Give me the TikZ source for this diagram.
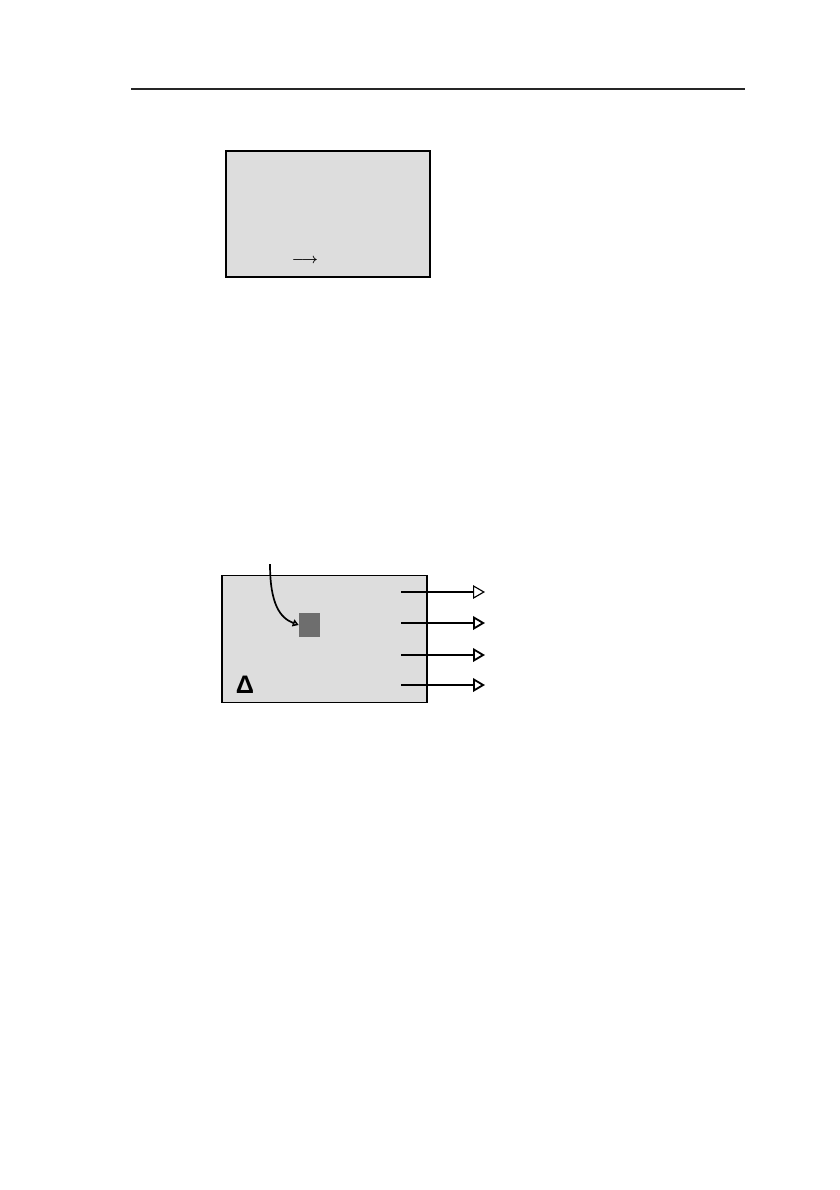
\documentclass[tikz,border=0pt]{standalone}
\usepackage{amsmath}
\usepackage{amssymb}
\usepackage{fontspec}
\usepackage{tikz}
\usetikzlibrary{arrows.meta,positioning}
\newfontfamily\deltafont{Liberation Sans}
\definecolor{screengray}{HTML}{DDDDDD}
\definecolor{cursorgray}{HTML}{6E6E6E}
\tikzset{
  screen/.style={draw=black,line width=1pt,fill=screengray,inner sep=0pt},
  cursor/.style={fill=cursorgray,inner sep=0pt,minimum width=0.525cm,minimum height=0.6cm},
  outarrow/.style={-{Triangle[open,length=0.3cm,width=0.34cm]},line width=1.3pt},
  thinarrow/.style={-{Triangle[open,length=0.3cm,width=0.34cm]},line width=0.8pt}
}

\begin{document}
\begin{tikzpicture}[x=0.025cm,y=-0.025cm]
  \useasboundingbox (0,0) rectangle (840,1190);
  %% header rule
  \coordinate (ruleL) at (131,89);
  \coordinate (ruleR) at (745,89);
  \draw[line width=0.8pt,black!85] (ruleL) -- (ruleR);
  %% upper display
  \node[screen,minimum width=5.1cm,minimum height=3.15cm] (disp1) at (328,214) {};
  \node at (305,261) {$\boldsymbol{\longrightarrow}$}; % arrow sign
  %% lower display
  \node[screen,minimum width=5.125cm,minimum height=3.175cm] (disp2) at (324.5,639) {};
  \node[cursor] (cur) at (309.5,625) {};
  \node at (245,685) {\fontsize{18}{18}\selectfont\deltafont\bfseries Δ};
  %%% pointer to the cursor
  \coordinate (ptr) at (270,564);
  \draw[line width=1.2pt,-{Triangle[open,length=0.15cm,width=0.18cm]}]
    (ptr) .. controls (270,604) and (280,618) .. (cur.west);
  %%% outputs
  \coordinate (o1a) at (401,592); \coordinate (o1b) at (485,592);
  \coordinate (o2a) at (401,623); \coordinate (o2b) at (485,623);
  \coordinate (o3a) at (401,655); \coordinate (o3b) at (485,655);
  \coordinate (o4a) at (401,685); \coordinate (o4b) at (485,685);
  \draw[thinarrow] (o1a) -- (o1b);
  \draw[outarrow] (o2a) -- (o2b);
  \draw[outarrow] (o3a) -- (o3b);
  \draw[outarrow] (o4a) -- (o4b);
\end{tikzpicture}
\end{document}
